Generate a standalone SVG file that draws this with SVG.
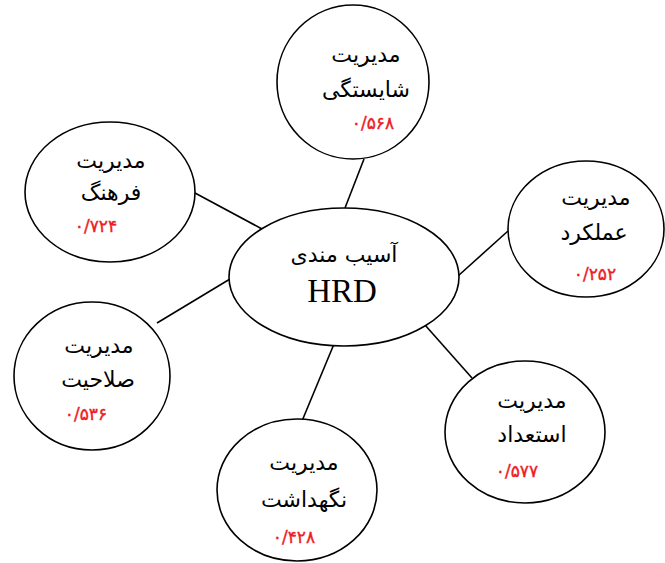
<svg xmlns="http://www.w3.org/2000/svg" width="665" height="563" viewBox="0 0 665 563">
<style>
.node ellipse{fill:#fff;stroke:#000;stroke-width:1.6}
.conn line{stroke:#000;stroke-width:1.6}
.fa{font-family:"DejaVu Sans",sans-serif;font-size:22px;fill:#000;text-anchor:middle}
.num{font-family:"DejaVu Sans",sans-serif;font-size:17px;fill:#ee1c24;stroke:#ee1c24;stroke-width:0.4;text-anchor:middle}
.en{font-family:"Liberation Serif",serif;font-size:33px;fill:#000;text-anchor:middle}
</style>
<rect width="665" height="563" fill="#fff"/>
<g id="connectors" class="conn">
<line x1="364" y1="159" x2="345" y2="208"/>
<line x1="195" y1="193" x2="262" y2="229"/>
<line x1="458" y1="276" x2="508" y2="231"/>
<line x1="157" y1="323" x2="230" y2="279"/>
<line x1="425" y1="325" x2="472" y2="378"/>
<line x1="334" y1="344" x2="302" y2="421"/>
</g>
<g id="hrd" class="node">
<ellipse cx="344" cy="277" rx="115" ry="69"/>
<text class="fa" x="344" y="262" font-size="25">آسیب مندی</text>
<text class="en" x="342" y="302">HRD</text>
</g>
<g id="shayestegi" class="node">
<ellipse cx="353" cy="82" rx="76" ry="77"/>
<text class="fa" x="366" y="62">مدیریت</text>
<text class="fa" x="366" y="97">شایستگی</text>
<text class="num" x="373" y="129">۰/۵۶۸</text>
</g>
<g id="farhang" class="node">
<ellipse cx="110" cy="192" rx="85" ry="70"/>
<text class="fa" x="111" y="168">مدیریت</text>
<text class="fa" x="111" y="200">فرهنگ</text>
<text class="num" x="96" y="232">۰/۷۲۴</text>
</g>
<g id="amalkard" class="node">
<ellipse cx="586" cy="229" rx="78" ry="68"/>
<text class="fa" x="596" y="205">مدیریت</text>
<text class="fa" x="594" y="240">عملکرد</text>
<text class="num" x="595" y="280">۰/۲۵۲</text>
</g>
<g id="salahiat" class="node">
<ellipse cx="92" cy="376" rx="78" ry="74"/>
<text class="fa" x="99" y="353">مدیریت</text>
<text class="fa" x="98" y="387">صلاحیت</text>
<text class="num" x="86" y="420">۰/۵۳۶</text>
</g>
<g id="esteedad" class="node">
<ellipse cx="525" cy="432" rx="80" ry="71"/>
<text class="fa" x="532" y="408">مدیریت</text>
<text class="fa" x="532" y="442">استعداد</text>
<text class="num" x="517" y="477">۰/۵۷۷</text>
</g>
<g id="negahdasht" class="node">
<ellipse cx="297" cy="490" rx="80" ry="71"/>
<text class="fa" x="304" y="470">مدیریت</text>
<text class="fa" x="304" y="507">نگهداشت</text>
<text class="num" x="294" y="543">۰/۴۲۸</text>
</g>
</svg>
